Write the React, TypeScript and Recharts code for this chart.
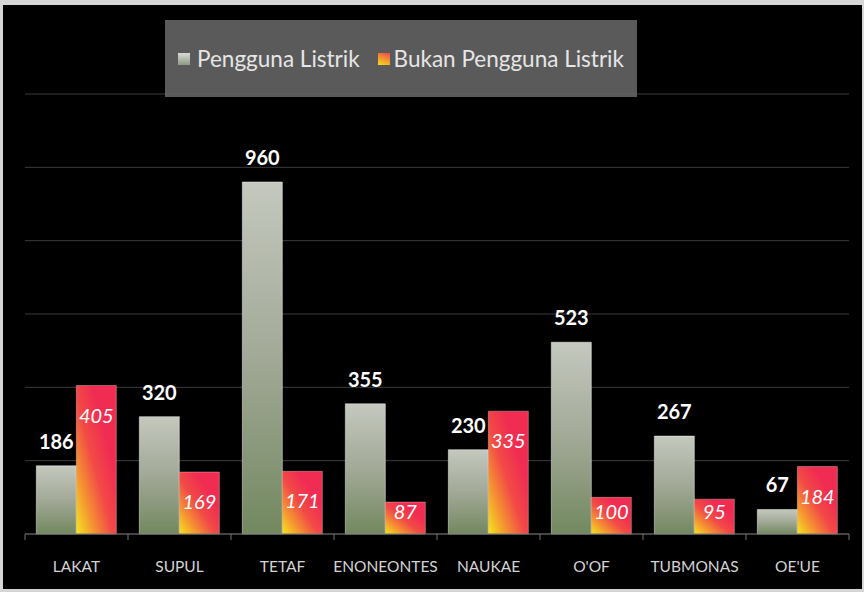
import { BarChart, Bar, XAxis, YAxis, CartesianGrid, Legend, LabelList } from 'recharts';

const categories = ['LAKAT', 'SUPUL', 'TETAF', 'ENONEONTES', 'NAUKAE', "O'OF", 'TUBMONAS', "OE'UE"];
const pengguna = [186, 320, 960, 355, 230, 523, 267, 67];
const bukanPengguna = [405, 169, 171, 87, 335, 100, 95, 184];
const yTicks = [0, 200, 400, 600, 800, 1000, 1200];

const data = categories.map((name, i) => ({
  name,
  pengguna: pengguna[i],
  bukan: bukanPengguna[i],
}));

const W = 859;
const H = 584;
const MARGIN = { top: 89, right: 13, left: 22, bottom: 25 };
const BAND = (W - MARGIN.left - MARGIN.right) / categories.length;
const FONT = 'Lato, "Open Sans", sans-serif';

const TopLabel = (props: any) => {
  const { x, y, width, value } = props;
  return (
    <text x={x + width / 2} y={y - 17} textAnchor="middle" fill="#ffffff"
      fontFamily={FONT} fontWeight="bold" fontSize={20}>
      {value}
    </text>
  );
};

const InsideLabel = (props: any) => {
  const { x, y, width, height, value } = props;
  const cy = Math.min(y + 30, y + height - 22);
  return (
    <text x={x + width / 2} y={cy + 7} textAnchor="middle" fill="#ffffff"
      fontFamily={FONT} fontStyle="italic" fontSize={20}>
      {value}
    </text>
  );
};

// category label plus the little separator marks between categories
const CategoryTick = (props: any) => {
  const { x, y, payload, index } = props;
  const axisY = y - 8;
  return (
    <g>
      <line x1={x - BAND / 2} x2={x - BAND / 2} y1={axisY} y2={axisY + 6} stroke="#707070" />
      {index === categories.length - 1 && (
        <line x1={x + BAND / 2} x2={x + BAND / 2} y1={axisY} y2={axisY + 6} stroke="#707070" />
      )}
      <text x={x} y={y + 30} textAnchor="middle" fill="#d4d4d4" fontFamily={FONT} fontSize={15.5}>
        {payload.value}
      </text>
    </g>
  );
};

const LegendBox = () => (
  <div style={{
    width: 472, height: 77, background: 'rgba(100,100,100,0.9)',
    display: 'flex', alignItems: 'center', justifyContent: 'center',
    fontFamily: FONT, fontSize: 22.5, color: '#e6e6e6', boxSizing: 'border-box',
  }}>
    <span style={{ display: 'inline-block', width: 12, height: 12, marginRight: 7,
      background: 'linear-gradient(180deg,#d8dad4,#8e9a84)' }} />
    <span style={{ marginRight: 18 }}>Pengguna Listrik</span>
    <span style={{ display: 'inline-block', width: 12, height: 12, marginRight: 4,
      background: 'linear-gradient(20deg,#f4e01c,#f04848)' }} />
    <span>Bukan Pengguna Listrik</span>
  </div>
);

export default function App() {
  return (
    <div style={{ position: 'fixed', top: 0, left: 0, width: 864, height: 592, background: '#d6d6d6' }}>
      <div style={{ position: 'absolute', left: 3, top: 5, width: W, height: H, background: '#000' }}>
        <BarChart width={W} height={H} data={data} margin={MARGIN}
          barGap={0} barCategoryGap="11%">
          <defs>
            <linearGradient id="gGray" x1="0" y1="0" x2="0" y2="1">
              <stop offset="0%" stopColor="#c4c8be" />
              <stop offset="50%" stopColor="#a2a997" />
              <stop offset="100%" stopColor="#72885f" />
            </linearGradient>
            <linearGradient id="gRed" x1="0" y1="1" x2="0.7" y2="0.3">
              <stop offset="0%" stopColor="#f4e81c" />
              <stop offset="30%" stopColor="#f59a30" />
              <stop offset="65%" stopColor="#f24a46" />
              <stop offset="100%" stopColor="#f02c52" />
            </linearGradient>
          </defs>
          <CartesianGrid vertical={false} stroke="#3c3c3c" />
          <XAxis dataKey="name" axisLine={{ stroke: '#6a6a6a' }} tickLine={false}
            tick={<CategoryTick />} height={30} interval={0} />
          <YAxis hide domain={[0, 1200]} ticks={yTicks} />
          <Legend verticalAlign="middle" align="center" content={<LegendBox />}
            wrapperStyle={{ top: 15, left: 162, width: 472, height: 77 }} />
          <Bar dataKey="pengguna" name="Pengguna Listrik" fill="url(#gGray)"
            stroke="rgba(255,255,255,0.45)" strokeWidth={1} isAnimationActive={false}>
            <LabelList dataKey="pengguna" content={<TopLabel />} />
          </Bar>
          <Bar dataKey="bukan" name="Bukan Pengguna Listrik" fill="url(#gRed)"
            stroke="rgba(255,220,220,0.35)" strokeWidth={1} isAnimationActive={false}>
            <LabelList dataKey="bukan" content={<InsideLabel />} />
          </Bar>
        </BarChart>
      </div>
    </div>
  );
}
